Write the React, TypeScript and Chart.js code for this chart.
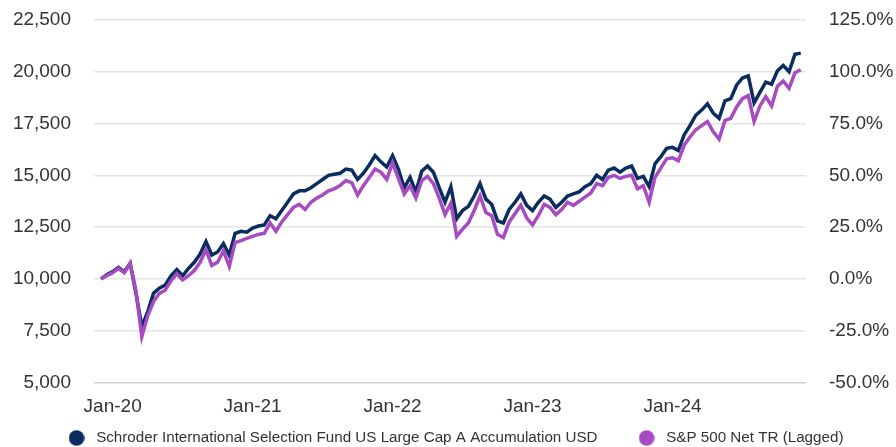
import React, { useEffect, useRef } from 'react';
import { Chart, registerables } from 'chart.js';

Chart.register(...registerables);

// Series names
const seriesNames = [
  'Schroder International Selection Fund US Large Cap A Accumulation USD',
  'S&P 500 Net TR (Lagged)',
];

// Growth of 10,000, sampled twice a month from 30-Nov-2019 (period 0) to 30-Nov-2024 (period 120)
const fundValues = [
  10000, 10200, 10350, 10550, 10350, 10750, 9300, 7700, 8400, 9300,
  9550, 9700, 10150, 10450, 10150, 10500, 10800, 11200, 11800, 11150,
  11300, 11700, 11150, 12200, 12300, 12250, 12450, 12550, 12600, 13050,
  12900, 13300, 13700, 14100, 14250, 14250, 14400, 14600, 14800, 15000,
  15050, 15100, 15300, 15250, 14800, 15100, 15500, 15950, 15650, 15400,
  15950, 15300, 14400, 14900, 14200, 15200, 15450, 15150, 14400, 13700,
  14450, 12900, 13300, 13500, 14000, 14600, 13850, 13600, 12800, 12700,
  13350, 13700, 14100, 13550, 13300, 13700, 14000, 13850, 13450, 13700,
  14000, 14100, 14200, 14450, 14600, 15000, 14800, 15250, 15350, 15150,
  15350, 15450, 14850, 14950, 14450, 15550, 15900, 16300, 16350, 16200,
  16950, 17400, 17900, 18150, 18450, 18000, 17750, 18600, 18700, 19350,
  19700, 19800, 18500, 19000, 19500, 19400, 20050, 20300, 20000, 20850,
  20900,
];

const indexValues = [
  10000, 10150, 10300, 10500, 10300, 10750, 9400, 7200, 8200, 8900,
  9300, 9450, 9900, 10250, 9950, 10150, 10400, 10800, 11400, 10650,
  10800, 11350, 10600, 11750, 11850, 11950, 12050, 12150, 12200, 12700,
  12300, 12750, 13100, 13450, 13600, 13350, 13700, 13900, 14050, 14250,
  14350, 14500, 14750, 14650, 14050, 14500, 14900, 15300, 15150, 14800,
  15600, 14850, 14100, 14500, 13900, 14750, 14950, 14600, 13900, 13100,
  13650, 12050, 12400, 12700, 13300, 14000, 13200, 13050, 12150, 12000,
  12750, 13150, 13550, 12950, 12600, 13050, 13600, 13450, 13100, 13350,
  13700, 13550, 13750, 13950, 14150, 14600, 14500, 14900, 15000, 14850,
  14950, 15000, 14350, 14500, 13700, 14900, 15350, 15800, 15850, 15700,
  16450, 16850, 17200, 17400, 17600, 17100, 16750, 17650, 17750, 18300,
  18700, 18850, 17600, 18350, 18800, 18350, 19300, 19550, 19200, 19950,
  20100,
];

// X-axis tick labels and the period each one sits on (31-Dec of the previous year)
const tickLabels = ['Jan-20', 'Jan-21', 'Jan-22', 'Jan-23', 'Jan-24'];
const tickPeriods = [2, 26, 50, 74, 98];

const NAVY = '#0a2c5e';
const PURPLE = '#a64bc2';
const TEXT = '#333333';
const FONT = "'Liberation Sans', Arial, Helvetica, sans-serif";

function dot(color: string): HTMLCanvasElement {
  const c = document.createElement('canvas');
  c.width = 16;
  c.height = 16;
  const g = c.getContext('2d');
  if (g) {
    g.fillStyle = color;
    g.beginPath();
    g.arc(8, 8, 7.8, 0, Math.PI * 2);
    g.fill();
  }
  return c;
}

// moves the bottom legend up so it sits closer to the axis labels
const legendShift = {
  id: 'legendShift',
  afterLayout(chart: any) {
    const lg = chart.legend;
    if (lg) {
      lg.top -= 37;
      lg.bottom -= 37;
    }
  },
};

export default function App() {
  const ref = useRef<HTMLCanvasElement>(null);

  useEffect(() => {
    const canvas = ref.current;
    if (!canvas) return;
    const axisTicks = (cb: (v: any) => string) => ({
      padding: 0,
      color: TEXT,
      font: { size: 19, family: FONT },
      callback: cb,
    });
    const chart = new Chart(canvas, {
      type: 'line',
      plugins: [legendShift],
      data: {
        datasets: [
          {
            label: seriesNames[0],
            data: fundValues.map((v, i) => ({ x: i, y: v })),
            borderColor: NAVY,
            backgroundColor: NAVY,
            borderWidth: 3.5,
            pointRadius: 0,
            pointStyle: dot(NAVY) as any,
            tension: 0,
            yAxisID: 'y',
            order: 1,
          },
          {
            label: seriesNames[1],
            data: indexValues.map((v, i) => ({ x: i, y: v })),
            borderColor: PURPLE,
            backgroundColor: PURPLE,
            borderWidth: 3.5,
            pointRadius: 0,
            pointStyle: dot(PURPLE) as any,
            tension: 0,
            yAxisID: 'y',
            order: 0,
          },
        ],
      },
      options: {
        animation: false,
        responsive: true,
        maintainAspectRatio: false,
        layout: { padding: { top: 20, left: 12, right: 0, bottom: -45.6 } },
        scales: {
          x: {
            type: 'linear',
            min: -1.2,
            max: 120.9,
            afterBuildTicks: (s: any) => {
              s.ticks = tickPeriods.map((v) => ({ value: v }));
            },
            ticks: {
              autoSkip: false,
              maxRotation: 0,
              padding: 12.6,
              color: TEXT,
              font: { size: 19, family: FONT },
              callback: (v: any) => {
                const k = tickPeriods.indexOf(Number(v));
                return k >= 0 ? tickLabels[k] : '';
              },
            },
            grid: { display: false, drawTicks: false },
            border: { display: false },
          },
          y: {
            position: 'left',
            min: 5000,
            max: 22500,
            ticks: { stepSize: 2500, ...axisTicks((v) => Number(v).toLocaleString('en-US')) },
            grid: {
              drawTicks: true,
              tickLength: 23,
              tickColor: 'rgba(0,0,0,0)',
              lineWidth: 1.5,
              color: (c: any) => (c.tick && c.tick.value === 5000 ? '#cfcfcf' : '#e4e4e4'),
            },
            border: { display: false },
            afterFit: (s: any) => {
              s.width = 82;
            },
          },
          y1: {
            position: 'right',
            min: -50,
            max: 125,
            ticks: { stepSize: 25, ...axisTicks((v) => `${Number(v).toFixed(1)}%`) },
            grid: {
              drawOnChartArea: false,
              drawTicks: true,
              tickLength: 23,
              tickColor: 'rgba(0,0,0,0)',
            },
            border: { display: false },
            afterFit: (s: any) => {
              s.width = 90;
            },
          },
        },
        plugins: {
          legend: {
            position: 'bottom',
            labels: {
              usePointStyle: true,
              pointStyleWidth: 24,
              boxHeight: 11,
              padding: 37,
              color: TEXT,
              font: { size: 15.2, family: FONT },
              sort: (a: any, b: any) => a.datasetIndex - b.datasetIndex,
            },
          },
          tooltip: { enabled: false },
        },
      },
    });
    return () => chart.destroy();
  }, []);

  return (
    <div style={{ position: 'fixed', left: 0, top: 0, width: 896, height: 447, background: '#fff' }}>
      <canvas ref={ref} />
    </div>
  );
}
